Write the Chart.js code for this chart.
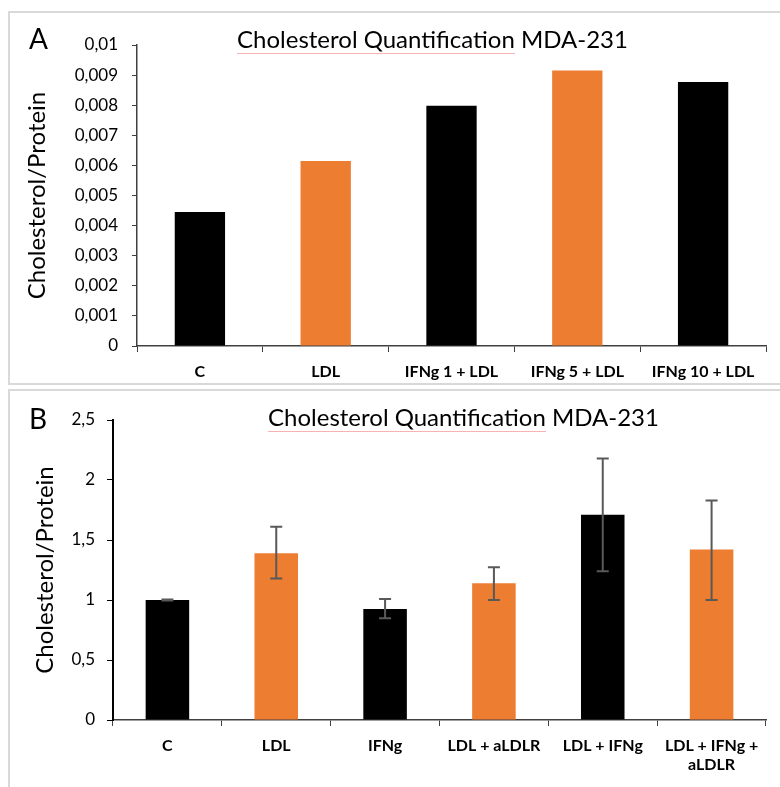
<!DOCTYPE html>
<html>
<head>
<meta charset="utf-8">
<script src="https://cdn.jsdelivr.net/npm/chart.js@4/dist/chart.umd.min.js"></script>
<style>
    body { margin: 0; background: #fff; width: 780px; height: 787px; overflow: hidden; position: relative; font-family: Lato, sans-serif; }
    .panel { position: absolute; left: 8px; width: 800px; border: 2px solid #d9d9d9; box-sizing: border-box; }
    #panelA { top: 11px; height: 374px; }
    #panelB { top: 389px; height: 420px; }
    canvas { position: absolute; left: 0; }
    .title { position: absolute; left: 0; text-align: center; font-size: 24px; line-height: 28px; color: #000; white-space: nowrap; }
    .spell { border-bottom: 1px solid #f7b3b3; }
    .letter { position: absolute; left: 29px; font-size: 28px; line-height: 28px; color: #000; }
</style>
</head>
<body>
<div class="panel" id="panelA"></div>
<div class="panel" id="panelB"></div>
<canvas id="chartA" width="780" height="385" style="top:0"></canvas>
<canvas id="chartB" width="780" height="398" style="top:389px"></canvas>
<div class="letter" style="top:24px">A</div>
<div class="letter" style="top:404px">B</div>
<div class="title" style="top:25px;width:865px"><span class="spell">Cholesterol Quantification</span> MDA-231</div>
<div class="title" style="top:403px;width:927px"><span class="spell">Cholesterol Quantification</span> MDA-231</div>
<script>
// panel A
var labelsA = ["C", "LDL", "IFNg 1 + LDL", "IFNg 5 + LDL", "IFNg 10 + LDL"];
var valuesA = [0.00445, 0.00615, 0.00798, 0.00915, 0.00877];
var colorsA = ["#000000", "#ED7D31", "#000000", "#ED7D31", "#000000"];
var ticksA = ["0", "0,001", "0,002", "0,003", "0,004", "0,005", "0,006", "0,007", "0,008", "0,009", "0,01"];

// panel B
var labelsB = ["C", "LDL", "IFNg", "LDL + aLDLR", "LDL + IFNg", ["LDL + IFNg +", "aLDLR"]];
var valuesB = [1.0, 1.39, 0.925, 1.14, 1.71, 1.42];
var errUpB = [0.005, 0.22, 0.083, 0.133, 0.47, 0.41];
var errDownB = [0.005, 0.21, 0.078, 0.14, 0.47, 0.42];
var colorsB = ["#000000", "#ED7D31", "#000000", "#ED7D31", "#000000", "#ED7D31"];
var ticksB = ["0", "0,5", "1", "1,5", "2", "2,5"];

Chart.defaults.font.family = "Lato, sans-serif";

// draws the error bars from the dataset's errUp / errDown arrays
var errorBarPlugin = {
    id: 'errorBars',
    afterDatasetsDraw: function (chart) {
        var ds = chart.data.datasets[0];
        if (!ds.errUp) return;
        var meta = chart.getDatasetMeta(0);
        var yScale = chart.scales.y;
        var ctx = chart.ctx;
        ctx.save();
        ctx.strokeStyle = '#595959';
        ctx.lineWidth = 2;
        meta.data.forEach(function (bar, i) {
            var v = ds.data[i];
            var yTop = yScale.getPixelForValue(v + ds.errUp[i]);
            var yBot = yScale.getPixelForValue(v - ds.errDown[i]);
            ctx.beginPath();
            ctx.moveTo(bar.x, yTop); ctx.lineTo(bar.x, yBot);
            ctx.moveTo(bar.x - 6, yTop); ctx.lineTo(bar.x + 6, yTop);
            ctx.moveTo(bar.x - 6, yBot); ctx.lineTo(bar.x + 6, yBot);
            ctx.stroke();
        });
        ctx.restore();
    }
};

function xAxis(height) {
    return {
        grid: { drawOnChartArea: false, drawTicks: true, tickLength: 6, color: '#404040', offset: true },
        border: { display: true, color: '#404040', width: 1.5 },
        ticks: { color: '#000', font: { size: 16, weight: 'bold' }, padding: 10, maxRotation: 0, autoSkip: false },
        afterFit: function (s) { s.height = height; }
    };
}

var chartA = new Chart(document.getElementById("chartA"), {
    type: 'bar',
    data: {
        labels: labelsA,
        datasets: [{
            data: valuesA,
            backgroundColor: colorsA,
            barPercentage: 0.4,
            categoryPercentage: 1
        }]
    },
    options: {
        responsive: false,
        animation: false,
        layout: { padding: { top: 45, right: 14, left: 0, bottom: 0 } },
        plugins: { legend: { display: false }, tooltip: { enabled: false } },
        scales: {
            x: xAxis(39),
            y: {
                min: 0,
                max: 0.01,
                ticks: {
                    stepSize: 0.001,
                    color: '#000',
                    font: { size: 17 },
                    padding: 14,
                    callback: function (v, i) { return ticksA[i]; }
                },
                grid: { drawOnChartArea: false, tickLength: 5, color: '#404040' },
                border: { color: '#404040', width: 1.5 },
                title: { display: true, text: 'Cholesterol/Protein', color: '#000', font: { size: 24 }, padding: { top: 23 } },
                afterFit: function (s) { s.width = 137; }
            }
        }
    }
});

var chartB = new Chart(document.getElementById("chartB"), {
    type: 'bar',
    data: {
        labels: labelsB,
        datasets: [{
            data: valuesB,
            errUp: errUpB,
            errDown: errDownB,
            backgroundColor: colorsB,
            barPercentage: 0.4,
            categoryPercentage: 1
        }]
    },
    options: {
        responsive: false,
        animation: false,
        layout: { padding: { top: 31, right: 14, left: 0, bottom: 0 } },
        plugins: { legend: { display: false }, tooltip: { enabled: false } },
        scales: {
            x: xAxis(67),
            y: {
                min: 0,
                max: 2.5,
                ticks: {
                    stepSize: 0.5,
                    color: '#000',
                    font: { size: 17 },
                    padding: 12,
                    callback: function (v, i) { return ticksB[i]; }
                },
                grid: { drawOnChartArea: false, tickLength: 6, color: '#000' },
                border: { color: '#000', width: 2 },
                title: { display: true, text: 'Cholesterol/Protein', color: '#000', font: { size: 24 }, padding: { top: 31 } },
                afterFit: function (s) { s.width = 113; }
            }
        }
    },
    plugins: [errorBarPlugin]
});
</script>
</body>
</html>
